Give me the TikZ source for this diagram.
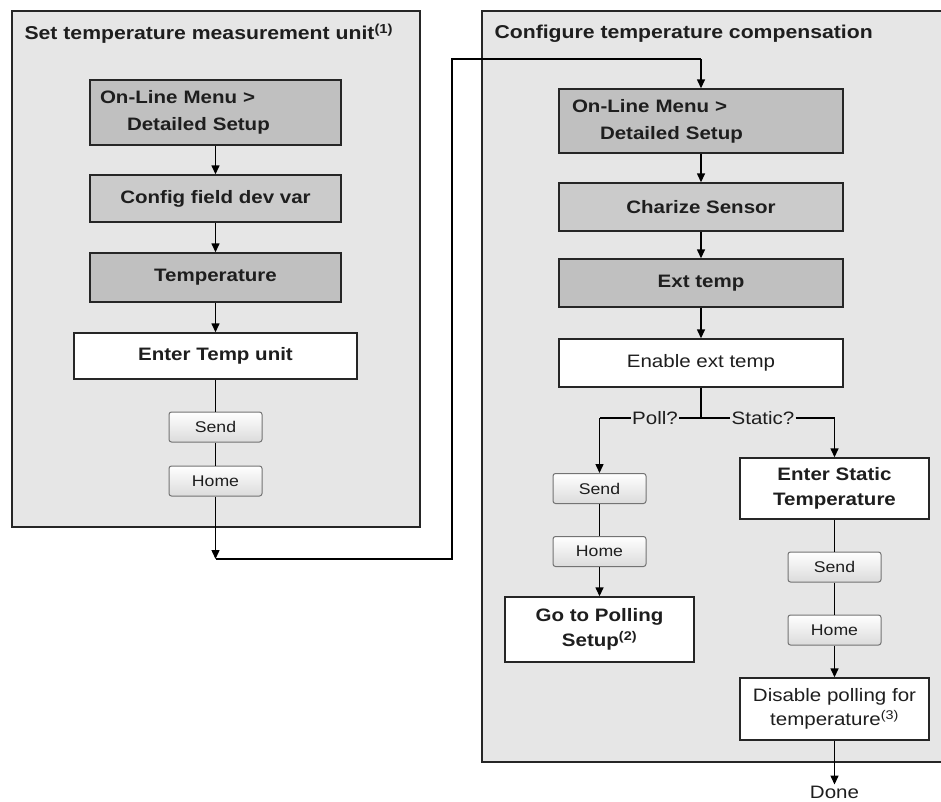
\documentclass[tikz,border=0pt]{standalone}
\usepackage{fontspec}
\setmainfont{Liberation Sans}[FakeStretch=1.14]
\usetikzlibrary{arrows.meta}
\definecolor{panel}{HTML}{E6E6E6}
\definecolor{darkbox}{HTML}{C0C0C0}
\definecolor{midbox}{HTML}{CBCBCB}
\definecolor{ink}{HTML}{1E1E1E}
\begin{document}
\begin{tikzpicture}[x=1pt,y=-1pt,
  font=\fontsize{18}{26}\selectfont, text=ink,
  panelbox/.style={draw=black!85, fill=panel, line width=1.4pt},
  stepbox/.style={draw=black!85, line width=1.4pt, inner sep=0pt, align=center},
  bf/.style={font={\fontsize{18}{25}\selectfont\bfseries}},
  ttl/.style={font={\fontsize{18.6}{22}\selectfont\bfseries}},
  menubox/.style={stepbox, fill=darkbox, align=left, inner xsep=10pt, text width=231pt, minimum height=65, font={\fontsize{18}{27}\selectfont\bfseries}},
  btn/.style={rounded corners=2.5pt, draw=black!55, line width=1pt, top color=white, bottom color=black!14, minimum width=93, minimum height=30, inner sep=0pt, font={\fontsize{15.5}{18}\selectfont}},
  lbl/.style={fill=panel, inner sep=1pt, font={\fontsize{18}{20}\selectfont}},
  arr/.style={-{Triangle[length=9pt,width=8pt]}, line width=1.4pt},
  ln/.style={line width=1.4pt}]
\useasboundingbox (0,0) rectangle (941,801);
\fill[white] (0,0) rectangle (941,801);
% panels
\draw[panelbox] (12,11) rectangle (420,527);
\draw[panelbox] (482,11) rectangle (948,762);
\node[anchor=west, ttl] (t1) at (21,34) {Set temperature measurement unit\textsuperscript{(1)}};
\node[anchor=west, ttl] (t2) at (491,34) {Configure temperature compensation};
% left column
\node[menubox] (a1) at (215.5,112.5) {On-Line Menu >\\\hspace*{27pt}Detailed Setup};
\node[stepbox, fill=midbox, minimum width=251, minimum height=47, bf] (a2) at (215.5,198.5) {Config field dev var};
\node[stepbox, fill=darkbox, minimum width=251, minimum height=49, bf] (a3) at (215.5,277.5) {Temperature};
\node[stepbox, fill=white, minimum width=283, minimum height=46, bf] (a4) at (215.5,356) {Enter Temp unit};
\node[btn] (s1) at (215.5,427) {Send};
\node[btn] (h1) at (215.5,481) {Home};
\coordinate (c1) at (215.5,559);
\coordinate (c2) at (452,559);
\coordinate (c3) at (452,59);
\coordinate (c4) at (701,59);
\draw[arr] (a1) -- (a2);
\draw[arr] (a2) -- (a3);
\draw[arr] (a3) -- (a4);
\draw[ln] (a4) -- (s1);
\draw[ln] (s1) -- (h1);
\draw[arr] (h1) -- (c1);
\draw[ln] (c1) -- (c2) -- (c3) -- (c4);
% right column
\node[menubox, inner xsep=13pt, text width=258pt, minimum height=64] (r1) at (701,121) {On-Line Menu >\\\hspace*{28pt}Detailed Setup};
\node[stepbox, fill=midbox, minimum width=284, minimum height=48, bf] (r2) at (701,207) {Charize Sensor};
\node[stepbox, fill=darkbox, minimum width=284, minimum height=48, bf] (r3) at (701,283) {Ext temp};
\node[stepbox, fill=white, minimum width=284, minimum height=48] (r4) at (701,363) {Enable ext temp};
\draw[arr] (c4) -- (r1);
\draw[arr] (r1) -- (r2);
\draw[arr] (r2) -- (r3);
\draw[arr] (r3) -- (r4);
\coordinate (b) at (701,418);
\coordinate (pl) at (599.5,418);
\coordinate (sr) at (834.5,418);
\node[lbl] (poll) at (655,418) {Poll?};
\node[lbl] (stat) at (763,418) {Static?};
\draw[ln] (r4) -- (b);
\draw[ln] (b) -- (poll);
\draw[ln] (b) -- (stat);
% poll branch
\node[btn] (ls) at (599.5,488.5) {Send};
\node[btn] (lh) at (599.5,551.5) {Home};
\node[stepbox, fill=white, minimum width=189, minimum height=65, bf] (pg) at (599.5,629.5) {Go to Polling\\Setup\textsuperscript{(2)}};
\draw[ln] (poll) -- (pl);
\draw[arr] (pl) -- (ls);
\draw[ln] (ls) -- (lh);
\draw[arr] (lh) -- (pg);
% static branch
\node[stepbox, fill=white, minimum width=189, minimum height=61, bf] (es) at (834.5,488.5) {Enter Static\\Temperature};
\node[btn] (rs) at (834.5,567) {Send};
\node[btn] (rh) at (834.5,630) {Home};
\node[stepbox, fill=white, minimum width=189, minimum height=62, font={\fontsize{18}{24}\selectfont}] (dp) at (834.5,709) {Disable polling for\\temperature\textsuperscript{(3)}};
\node[inner sep=1pt] (done) at (834.5,792) {Done};
\draw[ln] (stat) -- (sr);
\draw[arr] (sr) -- (es);
\draw[ln] (es) -- (rs);
\draw[ln] (rs) -- (rh);
\draw[arr] (rh) -- (dp);
\draw[arr] (dp) -- (done);
\end{tikzpicture}
\end{document}
